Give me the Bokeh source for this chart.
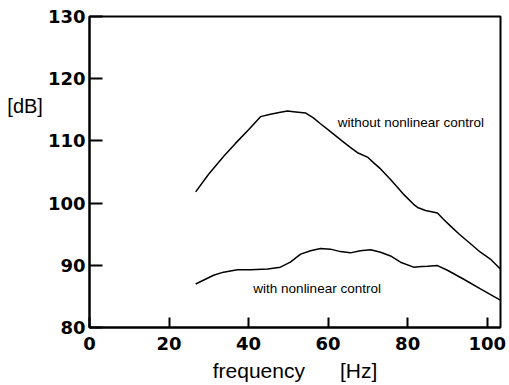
from bokeh.plotting import figure
from bokeh.models import Label, FixedTicker, Range1d
from bokeh.embed import file_html
from bokeh.resources import INLINE

# upper curve: without nonlinear control
freq_without = [26.7, 29.9, 33.7, 36.7, 40.0, 43.0, 45.5, 48.0, 49.8, 51.3, 54.3, 56.3,
                58.0, 60.6, 63.1, 65.5, 67.4, 69.9, 71.4, 73.2, 75.7, 78.2, 79.0, 81.5,
                82.5, 84.5, 87.5, 89.0, 90.8, 93.0, 95.0, 98.3, 100.8, 103.3]
db_without = [101.8, 104.6, 107.5, 109.6, 111.8, 113.9, 114.3, 114.6, 114.8, 114.7, 114.5, 113.7,
              112.8, 111.5, 110.2, 109.0, 108.1, 107.4, 106.5, 105.5, 103.8, 102.0, 101.4, 99.8,
              99.3, 98.8, 98.4, 97.4, 96.3, 95.0, 93.9, 92.1, 91.0, 89.4]

# lower curve: with nonlinear control
freq_with = [26.7, 31.2, 33.7, 37.2, 40.5, 44.8, 48.0, 50.5, 53.1, 55.6, 58.1, 60.6,
             63.1, 65.6, 68.1, 70.7, 73.2, 75.7, 78.2, 81.5, 83.5, 85.0, 87.5, 90.0,
             94.0, 98.3, 103.3]
db_with = [87.0, 88.4, 88.9, 89.3, 89.3, 89.4, 89.7, 90.5, 91.8, 92.35, 92.7, 92.6,
           92.2, 92.0, 92.35, 92.5, 92.1, 91.5, 90.5, 89.7, 89.8, 89.85, 89.95, 89.2,
           87.8, 86.2, 84.4]

x_ticks = [0, 20, 40, 60, 80, 100]
y_ticks = [80, 90, 100, 110, 120, 130]

p = figure(width=508, height=384, output_backend="svg", toolbar_location=None,
           x_range=Range1d(0, 103.35), y_range=Range1d(80, 130),
           min_border_left=89, min_border_right=8, min_border_top=16, min_border_bottom=55)
p.xgrid.visible = False
p.ygrid.visible = False
p.background_fill_color = "white"
p.border_fill_color = "white"
p.outline_line_color = "black"
p.outline_line_width = 2

p.line(freq_without, db_without, line_color="black", line_width=1.5)
p.line(freq_with, db_with, line_color="black", line_width=1.5)

for ax in (p.xaxis[0], p.yaxis[0]):
    ax.axis_line_width = 2
    ax.axis_line_color = "black"
    ax.major_tick_line_width = 2
    ax.major_tick_out = 0
    ax.minor_tick_in = 0
    ax.minor_tick_out = 0
    ax.major_label_text_font = "DejaVu Sans"
    ax.major_label_text_font_style = "bold"
    ax.major_label_text_font_size = "18px"
    ax.major_label_text_color = "black"
    ax.axis_label_text_font = "Liberation Sans"
    ax.axis_label_text_font_style = "normal"
    ax.axis_label_text_color = "black"

p.xaxis[0].ticker = FixedTicker(ticks=x_ticks)
p.yaxis[0].ticker = FixedTicker(ticks=y_ticks)
p.xaxis[0].major_tick_in = 10
p.yaxis[0].major_tick_in = 13
p.xaxis[0].major_label_standoff = 9
p.yaxis[0].major_label_standoff = 4

nb = "\u00a0"
p.xaxis[0].axis_label = "frequency" + nb * 6 + "[Hz]"
p.xaxis[0].axis_label_text_font_size = "21px"
p.xaxis[0].axis_label_standoff = 6

# "[dB]" sits high on the left: extra blank lines push it above the frame centre
p.yaxis[0].axis_label = "[dB]" + ("\n" + nb) * 5
p.yaxis[0].axis_label_orientation = "horizontal"
p.yaxis[0].axis_label_text_font_size = "20px"
p.yaxis[0].axis_label_standoff = 2

def add_label(x, y, text, size, align="left", baseline="alphabetic"):
    p.add_layout(Label(x=x, y=y, text=text, text_font="Liberation Sans",
                       text_font_size=size, text_color="black",
                       text_align=align, text_baseline=baseline))

add_label(62.4, 112.9, "without nonlinear control", "13.5px")
add_label(41.2, 86.35, "with nonlinear control", "13.5px")

open("out.html", "w").write(file_html(p, INLINE))
